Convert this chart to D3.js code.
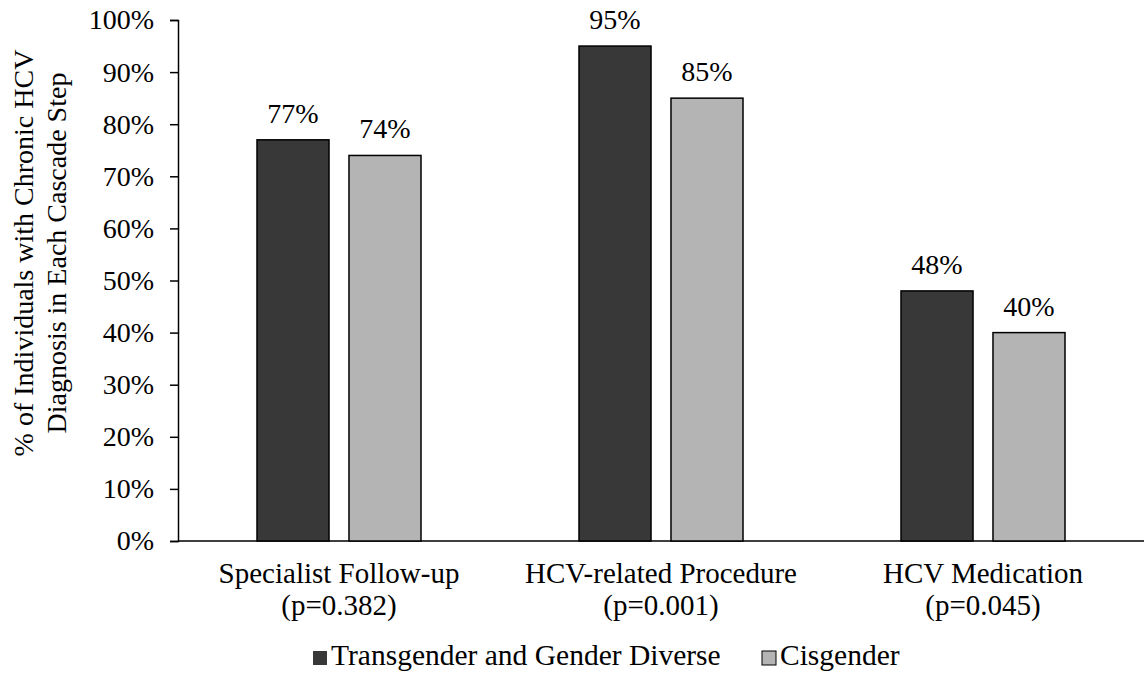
<!DOCTYPE html>
<html lang="en">
<head>
<meta charset="UTF-8">
<title>HCV Cascade</title>
<script src="https://d3js.org/d3.v7.min.js"></script>
<style>
  body { margin: 0; background: #fff; }
  text { font-family: "Liberation Serif", "Times New Roman", serif; fill: #000; }
</style>
</head>
<body>
<script>
// data
const categories = ["Specialist Follow-up", "HCV-related Procedure", "HCV Medication"];
const pValues = ["(p=0.382)", "(p=0.001)", "(p=0.045)"];
const seriesNames = ["Transgender and Gender Diverse", "Cisgender"];
const tgdValues = [77, 95, 48];
const cisValues = [74, 85, 40];
const yTicks = [0, 10, 20, 30, 40, 50, 60, 70, 80, 90, 100];

const width = 1147, height = 677;
const margin = {top: 20, right: 3, bottom: 136, left: 178};
const colors = ["#383838", "#b4b4b4"];
const fs = 28;

const svg = d3.select("body").append("svg")
  .attr("width", width).attr("height", height);

const x0 = d3.scaleBand().domain(categories)
  .range([margin.left, width - margin.right]);
// two bars ~72px wide with a 20px gap, centred in each band
const x1 = d3.scaleBand().domain(seriesNames)
  .range([-82, 82]).paddingInner(0.217);
const y = d3.scaleLinear().domain([0, 100])
  .range([height - margin.bottom, margin.top]);

// y axis
const yAxis = svg.append("g")
  .attr("transform", `translate(${margin.left},0)`)
  .call(d3.axisLeft(y).tickValues(yTicks).tickSize(8).tickPadding(16).tickFormat(d => d + "%"));
yAxis.select(".domain").attr("stroke", "#000").attr("stroke-width", 1.5);
yAxis.selectAll(".tick line").attr("stroke", "#000").attr("stroke-width", 1.5);
yAxis.selectAll(".tick text").attr("font-size", fs).attr("font-family", "Liberation Serif").attr("fill", "#000");

// x axis line
svg.append("line")
  .attr("x1", margin.left).attr("x2", width - margin.right)
  .attr("y1", y(0)).attr("y2", y(0))
  .attr("stroke", "#000").attr("stroke-width", 1.5);

// bars
const rows = categories.map((c, i) => ({cat: c, vals: [tgdValues[i], cisValues[i]]}));
const groups = svg.selectAll("g.grp").data(rows).enter().append("g")
  .attr("class", "grp")
  .attr("transform", d => `translate(${x0(d.cat) + x0.bandwidth() / 2},0)`);

groups.selectAll("rect").data(d => d.vals.map((v, j) => ({name: seriesNames[j], v: v, j: j})))
  .enter().append("rect")
  .attr("x", d => x1(d.name))
  .attr("width", x1.bandwidth())
  .attr("y", d => y(d.v))
  .attr("height", d => y(0) - y(d.v))
  .attr("fill", d => colors[d.j])
  .attr("stroke", "#000").attr("stroke-width", 1.5);

groups.selectAll("text.val").data(d => d.vals.map((v, j) => ({name: seriesNames[j], v: v})))
  .enter().append("text")
  .attr("class", "val")
  .attr("x", d => x1(d.name) + x1.bandwidth() / 2)
  .attr("y", d => y(d.v) - 17)
  .attr("text-anchor", "middle")
  .attr("font-size", fs)
  .text(d => d.v + "%");

// category labels
groups.append("text")
  .attr("x", 0).attr("y", y(0) + 42)
  .attr("text-anchor", "middle").attr("font-size", 29)
  .text(d => d.cat);
groups.append("text")
  .attr("x", 0).attr("y", y(0) + 74)
  .attr("text-anchor", "middle").attr("font-size", 29)
  .text((d, i) => pValues[i]);

// y title
const yt = svg.append("text")
  .attr("transform", `translate(0, 253) rotate(-90)`)
  .attr("text-anchor", "middle").attr("font-size", fs);
yt.append("tspan").attr("x", 0).attr("y", 33).text("% of Individuals with Chronic HCV");
yt.append("tspan").attr("x", 0).attr("y", 66).text("Diagnosis in Each Cascade Step");

// legend
const legendX = [313, 762];
const legend = svg.selectAll("g.leg").data(seriesNames).enter().append("g")
  .attr("class", "leg")
  .attr("transform", (d, i) => `translate(${legendX[i]},651)`);
legend.append("rect").attr("width", 14).attr("height", 14)
  .attr("fill", (d, i) => colors[i])
  .attr("stroke", (d, i) => i === 1 ? "#000" : "none").attr("stroke-width", 1);
legend.append("text").attr("x", 18).attr("y", 14).attr("font-size", 29.5).text(d => d);
</script>
</body>
</html>
